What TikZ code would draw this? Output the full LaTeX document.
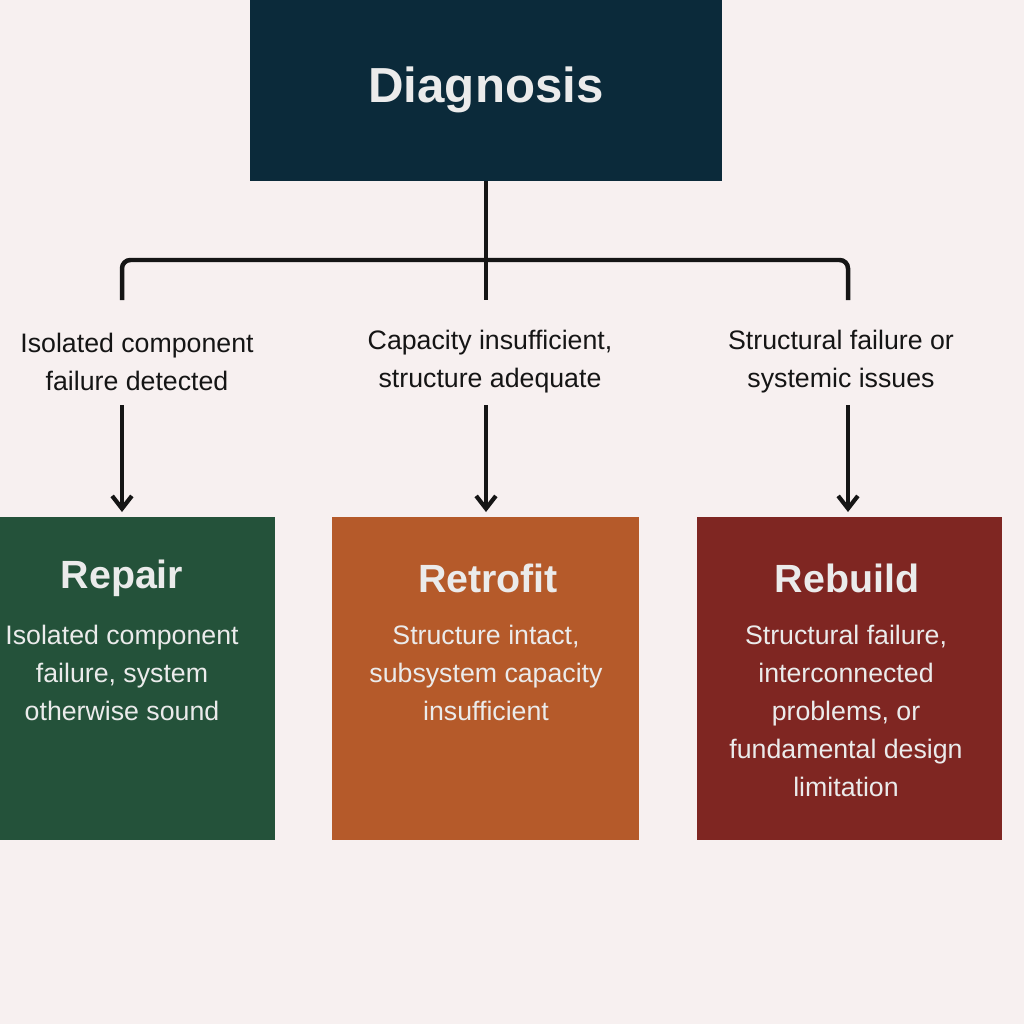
\documentclass[tikz,border=0pt]{standalone}
\usepackage{fontspec}
\setmainfont{Liberation Sans}
\usetikzlibrary{arrows.meta}
\definecolor{bg}{HTML}{F7F0F0}
\definecolor{navy}{HTML}{0B2A3A}
\definecolor{cgreen}{HTML}{24523A}
\definecolor{corange}{HTML}{B55A2A}
\definecolor{cred}{HTML}{7F2622}
\definecolor{ink}{HTML}{151515}
\begin{document}
\begin{tikzpicture}[x=0.025cm,y=-0.025cm,
  box/.style={inner sep=0,outer sep=0},
  lab/.style={align=center,text=ink,font=\fontsize{19}{27}\selectfont},
  body/.style={align=center,text=white!92!black,font=\fontsize{19}{27}\selectfont},
  ttl/.style={text=white!92!black,font=\bfseries\fontsize{28}{32}\selectfont},
  conn/.style={line width=3.2pt,draw=ink},
  arr/.style={conn,-{Straight Barb[length=9pt,width=14pt,line width=3pt]}}]
\useasboundingbox (0,0) rectangle (1024,1024);
\fill[bg] (0,0) rectangle (1024,1024);
\fill[navy] (250,-2) rectangle (722,181);
\node[text=white!92!black,font=\bfseries\fontsize{35}{40}\selectfont] (diag) at (486,90) {Diagnosis};
\coordinate (dtop) at (486,181);
\fill[cgreen] (-5,517) rectangle (275,840);
\fill[corange] (332,517) rectangle (639,840);
\fill[cred] (697,517) rectangle (1002,840);
\coordinate (rep) at (122,512);
\coordinate (ret) at (486,512);
\coordinate (reb) at (848,512);
\node[ttl] (t1) at (122,578) {Repair};
\node[ttl] (t2) at (488,578) {Retrofit};
\node[ttl] (t3) at (847,578) {Rebuild};
\node[body,anchor=north] (b1) at (122,620) {Isolated component\\failure, system\\otherwise sound};
\node[body,anchor=north] (b2) at (486,620) {Structure intact,\\subsystem capacity\\insufficient};
\node[body,anchor=north] (b3) at (846,620) {Structural failure,\\interconnected\\problems, or\\fundamental design\\limitation};
\node[lab] (l1) at (137,362) {Isolated component\\failure detected};
\node[lab] (l2) at (490,362) {Capacity insufficient,\\structure adequate};
\node[lab] (l3) at (841,362) {Structural failure or\\systemic issues};
\coordinate (h1) at (122,300);
\coordinate (h3) at (848,300);
\coordinate (hm) at (486,300);
\draw[conn,rounded corners=6pt] (h1) |- (486,260) -| (h3);
\draw[conn] (dtop) -- (hm);
\draw[arr] (122,405) -- (rep);
\draw[arr] (486,405) -- (ret);
\draw[arr] (848,405) -- (reb);
\end{tikzpicture}
\end{document}
